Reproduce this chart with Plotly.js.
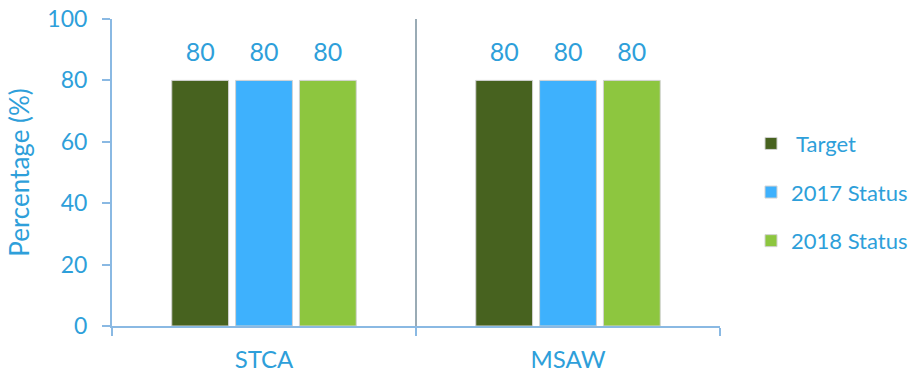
<!DOCTYPE html>
<html>
<head>
<meta charset="utf-8">
<script src="https://cdn.plot.ly/plotly-3.0.1.min.js"></script>
<style>
  html, body { margin: 0; padding: 0; background: #ffffff; }
  #chart { width: 913px; height: 378px; }
</style>
</head>
<body>
<div id="chart"></div>
<script>
// Categories and series
const categories = ['STCA', 'MSAW'];
const seriesNames = [' Target', '2017 Status', '2018 Status'];
const targetValues = [80, 80];
const status2017Values = [80, 80];
const status2018Values = [80, 80];
const seriesColors = ['#47621f', '#3eb1fd', '#8dc63f'];
const yTicks = [0, 20, 40, 60, 80, 100];

const textBlue = '#2e9fda';
const axisBlue = '#8ab9e3';
const fontFamily = 'Lato, "Open Sans", sans-serif';

const seriesValues = [targetValues, status2017Values, status2018Values];

// Grouped bars
const barTraces = seriesValues.map((vals, i) => ({
  type: 'bar',
  name: seriesNames[i],
  x: categories,
  y: vals,
  legendgroup: 'g' + i,
  offsetgroup: 'g' + i,
  alignmentgroup: 'main',
  marker: { color: seriesColors[i], line: { color: '#d2d2d2', width: 1 } },
  hoverinfo: 'skip'
}));

// Value labels above each bar; the invisible marker sets the gap to the bar top
const labelTraces = seriesValues.map((vals, i) => ({
  type: 'scatter',
  mode: 'markers+text',
  x: categories,
  y: vals,
  offsetgroup: 'g' + i,
  alignmentgroup: 'main',
  text: vals.map(String),
  textposition: 'top center',
  textfont: { family: fontFamily, size: 25, color: textBlue },
  marker: { size: 20, color: 'rgba(0,0,0,0)' },
  cliponaxis: false,
  showlegend: false,
  hoverinfo: 'skip'
}));

const layout = {
  width: 913,
  height: 378,
  margin: { l: 112, r: 193, t: 19, b: 52, autoexpand: false },
  paper_bgcolor: '#ffffff',
  plot_bgcolor: '#ffffff',
  font: { family: fontFamily, color: textBlue },
  barmode: 'group',
  bargap: 0.37,
  bargroupgap: 0.11,
  scattermode: 'group',
  scattergap: 0.37,
  showlegend: true,
  legend: {
    x: 1.051, xanchor: 'left',
    y: 0.436, yanchor: 'middle',
    font: { family: fontFamily, size: 22, color: textBlue },
    traceorder: 'grouped',
    tracegroupgap: 17,
    itemwidth: 30
  },
  xaxis: {
    type: 'category',
    range: [-0.5, 1.5],
    tickson: 'boundaries',
    ticks: 'outside',
    ticklen: 8,
    tickcolor: axisBlue,
    tickwidth: 2,
    showline: true,
    linecolor: axisBlue,
    linewidth: 2,
    showgrid: true,
    gridcolor: '#9aabb5',
    gridwidth: 2,
    tickfont: { family: fontFamily, size: 24, color: textBlue },
    ticklabelstandoff: 11,
    zeroline: false,
    fixedrange: true
  },
  yaxis: {
    range: [0, 100],
    tickvals: yTicks,
    ticks: 'outside',
    ticklen: 8,
    tickcolor: axisBlue,
    tickwidth: 2,
    showline: true,
    linecolor: axisBlue,
    linewidth: 2,
    showgrid: false,
    zeroline: false,
    tickfont: { family: fontFamily, size: 23, color: textBlue },
    ticklabelstandoff: 10,
    title: { text: 'Percentage (%)', font: { family: fontFamily, size: 26, color: textBlue }, standoff: 10 },
    fixedrange: true
  }
};

Plotly.newPlot('chart', barTraces.concat(labelTraces), layout, { displayModeBar: false, staticPlot: true });
</script>
</body>
</html>
